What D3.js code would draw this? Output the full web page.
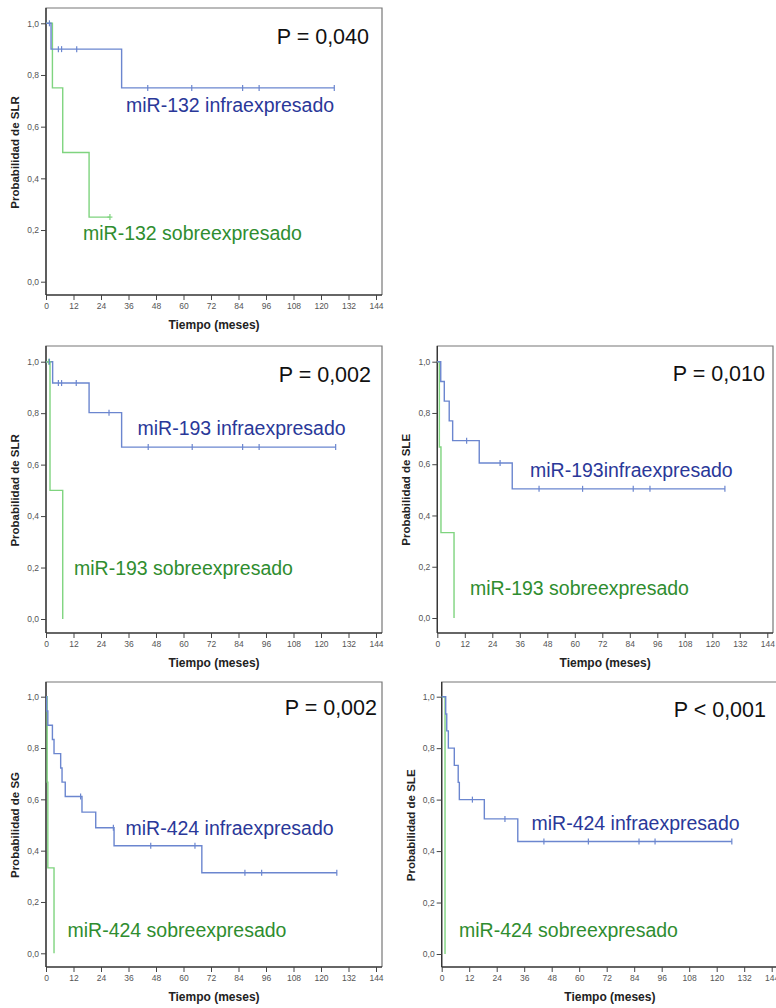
<!DOCTYPE html>
<html><head><meta charset="utf-8">
<script src="https://cdn.jsdelivr.net/npm/d3@7"></script>
<style>
html,body{margin:0;padding:0;background:#fff;}
svg{display:block;font-family:"Liberation Sans",Arial,sans-serif;}
</style></head>
<body><svg id="c" width="776" height="1008"></svg>
<script>
// ---- tick labels ----
const xTickValues = [0,12,24,36,48,60,72,84,96,108,120,132,144];
const yTickValues = [0,0.2,0.4,0.6,0.8,1.0];
const xAxisTitle = "Tiempo (meses)";

// ---- panel texts ----
const yTitles = ["Probabilidad de SLR","Probabilidad de SLR","Probabilidad de SLE","Probabilidad de SG","Probabilidad de SLE"];
const pValues = ["P = 0,040","P = 0,002","P = 0,010","P = 0,002","P < 0,001"];
const lowLabels = ["miR-132 infraexpresado","miR-193 infraexpresado","miR-193infraexpresado","miR-424 infraexpresado","miR-424 infraexpresado"];
const highLabels = ["miR-132 sobreexpresado","miR-193 sobreexpresado","miR-193 sobreexpresado","miR-424 sobreexpresado","miR-424 sobreexpresado"];

// ---- survival steps [month, probability] ----
const p1Low = [[0,1],[2.2,0.9],[33,0.75],[125.8,0.75]];
const p1LowCens = [[1.5,1],[5.4,0.9],[6.8,0.9],[13.4,0.9],[44.4,0.75],[63.6,0.75],[85.8,0.75],[93,0.75],[125.8,0.75]];
const p1High = [[0,1],[2.8,0.75],[7.3,0.5],[18.8,0.25],[27.9,0.25]];
const p1HighCens = [[27.9,0.25]];

const p2Low = [[0,1],[2.9,0.917],[18.8,0.802],[33,0.668],[126.4,0.668]];
const p2LowCens = [[1.5,1],[5.4,0.917],[6.8,0.917],[13.2,0.917],[27.5,0.802],[44.6,0.668],[63.8,0.668],[85.8,0.668],[93,0.668],[126.4,0.668]];
const p2High = [[0,1],[1.75,0.5],[7.3,0],[7.3,0]];
const p2HighCens = [[1.2,1]];

const p3Low = [[0,1],[1.5,0.923],[3.05,0.846],[5.2,0.769],[6.7,0.692],[18.3,0.605],[32.7,0.504],[125.5,0.504]];
const p3LowCens = [[12.8,0.692],[27.4,0.605],[44.4,0.504],[63.4,0.504],[85.5,0.504],[92.8,0.504],[125.5,0.504]];
const p3High = [[0,1],[0.9,0.667],[1.6,0.333],[7.3,0],[7.3,0]];
const p3HighCens = [];

const p4Low = [[0,1],[0.3,0.944],[0.8,0.889],[2.8,0.833],[3.5,0.778],[6.4,0.722],[7.0,0.667],[8.4,0.611],[15.7,0.55],[21.7,0.489],[29.7,0.419],[68,0.314],[126.9,0.314]];
const p4LowCens = [[15.1,0.611],[29.4,0.489],[45.7,0.419],[65,0.419],[86.8,0.314],[94.1,0.314],[126.9,0.314]];
const p4High = [[0,1],[0.5,0.667],[0.8,0.333],[3.5,0],[3.5,0]];
const p4HighCens = [];

const p5Low = [[0,1],[1.75,0.933],[2.2,0.867],[2.9,0.8],[5.5,0.733],[7.2,0.667],[7.7,0.6],[18.6,0.525],[33.2,0.4375],[126.6,0.4375]];
const p5LowCens = [[13.4,0.6],[27.6,0.525],[44.6,0.4375],[64,0.4375],[86.1,0.4375],[93.1,0.4375],[126.6,0.4375]];
const p5High = [[0,1],[1.45,0],[1.45,0]];
const p5HighCens = [];

const lowSeries = [p1Low,p2Low,p3Low,p4Low,p5Low];
const lowCensored = [p1LowCens,p2LowCens,p3LowCens,p4LowCens,p5LowCens];
const highSeries = [p1High,p2High,p3High,p4High,p5High];
const highCensored = [p1HighCens,p2HighCens,p3HighCens,p4HighCens,p5HighCens];

// ---- layout (pixels) ----
const layout = [
  {x0:46,   frameTop:8,   y1:23.3,  y0:281.7, bottom:295, right:382, pX:369, pY:43.5, lowX:126, lowY:111.5, highX:83,  highY:240},
  {x0:46,   frameTop:346, y1:361.7, y0:619,   bottom:633, right:382, pX:371, pY:381.5,lowX:137.5,lowY:435, highX:74,  highY:575},
  {x0:437.3,frameTop:346, y1:361.7, y0:618,   bottom:633, right:773, pX:765, pY:380.5,lowX:530, lowY:476.5, highX:470, highY:595},
  {x0:46,   frameTop:682, y1:696.7, y0:953.3, bottom:967, right:382, pX:377, pY:715,  lowX:125.5,lowY:835, highX:67.5,highY:936.5},
  {x0:441.7,frameTop:682, y1:696.7, y0:954,   bottom:967, right:778, pX:766, pY:716.5,lowX:531.5,lowY:830, highX:459, highY:936.5}
];

const lowLine = "#6b86cf", highLine = "#7fd47f";
const lowText = "#2a3899", highText = "#2f8d2f";

const svg = d3.select("#c");

layout.forEach((L,i)=>{
  const x = d3.scaleLinear().domain([0,144]).range([L.x0, L.x0 + 330]);
  const y = d3.scaleLinear().domain([0,1]).range([L.y0, L.y1]);
  const g = svg.append("g");

  // frame
  g.append("path")
    .attr("d", `M${L.x0},${L.bottom}V${L.frameTop}H${L.right}V${L.bottom}`)
    .attr("fill","none").attr("stroke","#777").attr("stroke-width",1.2);
  g.append("line").attr("x1",L.x0).attr("x2",L.right).attr("y1",L.bottom).attr("y2",L.bottom)
    .attr("stroke","#333").attr("stroke-width",1.3);
  g.append("line").attr("x1",L.x0).attr("x2",L.x0).attr("y1",L.frameTop).attr("y2",L.bottom)
    .attr("stroke","#333").attr("stroke-width",1.3);

  // axes
  const xa = g.append("g").attr("transform",`translate(0,${L.bottom})`)
    .call(d3.axisBottom(x).tickValues(xTickValues).tickSize(5).tickPadding(3).tickFormat(d3.format("d")));
  const ya = g.append("g").attr("transform",`translate(${L.x0},0)`)
    .call(d3.axisLeft(y).tickValues(yTickValues).tickSize(5).tickPadding(2).tickFormat(d=>d3.format(".1f")(d).replace(".",",")));
  [xa,ya].forEach(a=>{
    a.select(".domain").remove();
    a.selectAll(".tick line").attr("stroke","#444");
    a.selectAll(".tick text").attr("fill","#555").style("font-size","8.5px").style("font-family","Liberation Sans, Arial, sans-serif");
  });

  // axis titles
  g.append("text").attr("x",(L.x0+L.right)/2).attr("y",L.bottom+34)
    .attr("text-anchor","middle").style("font-size","12px").style("font-weight","bold").attr("fill","#222")
    .text(xAxisTitle);
  g.append("text").attr("transform",`translate(${L.x0-27},${(L.y0+L.y1)/2}) rotate(-90)`)
    .attr("text-anchor","middle").style("font-size","11.5px").style("font-weight","bold").attr("fill","#222")
    .text(yTitles[i]);

  // curves
  const line = d3.line().x(d=>x(d[0])).y(d=>y(d[1])).curve(d3.curveStepAfter);
  g.append("path").datum(highSeries[i]).attr("d",line).attr("fill","none").attr("stroke",highLine).attr("stroke-width",1.4);
  g.append("path").datum(lowSeries[i]).attr("d",line).attr("fill","none").attr("stroke",lowLine).attr("stroke-width",1.4);
  g.selectAll(".ch").data(highCensored[i]).enter().append("line")
    .attr("x1",d=>x(d[0])).attr("x2",d=>x(d[0])).attr("y1",d=>y(d[1])-3).attr("y2",d=>y(d[1])+3)
    .attr("stroke",highLine).attr("stroke-width",1.2);
  g.selectAll(".ch2").data(highCensored[i]).enter().append("line")
    .attr("x1",d=>x(d[0])-2.5).attr("x2",d=>x(d[0])+2.5).attr("y1",d=>y(d[1])).attr("y2",d=>y(d[1]))
    .attr("stroke",highLine).attr("stroke-width",1.2);
  g.selectAll(".cl").data(lowCensored[i]).enter().append("line")
    .attr("x1",d=>x(d[0])).attr("x2",d=>x(d[0])).attr("y1",d=>y(d[1])-3).attr("y2",d=>y(d[1])+3)
    .attr("stroke",lowLine).attr("stroke-width",1.2);

  // texts
  g.append("text").attr("x",L.pX).attr("y",L.pY).attr("text-anchor","end")
    .style("font-size","21.5px").attr("fill","#111").text(pValues[i]);
  g.append("text").attr("x",L.lowX).attr("y",L.lowY)
    .style("font-size","19.5px").attr("fill",lowText).text(lowLabels[i]);
  g.append("text").attr("x",L.highX).attr("y",L.highY)
    .style("font-size","19.5px").attr("fill",highText).text(highLabels[i]);
});
</script>
</body></html>
